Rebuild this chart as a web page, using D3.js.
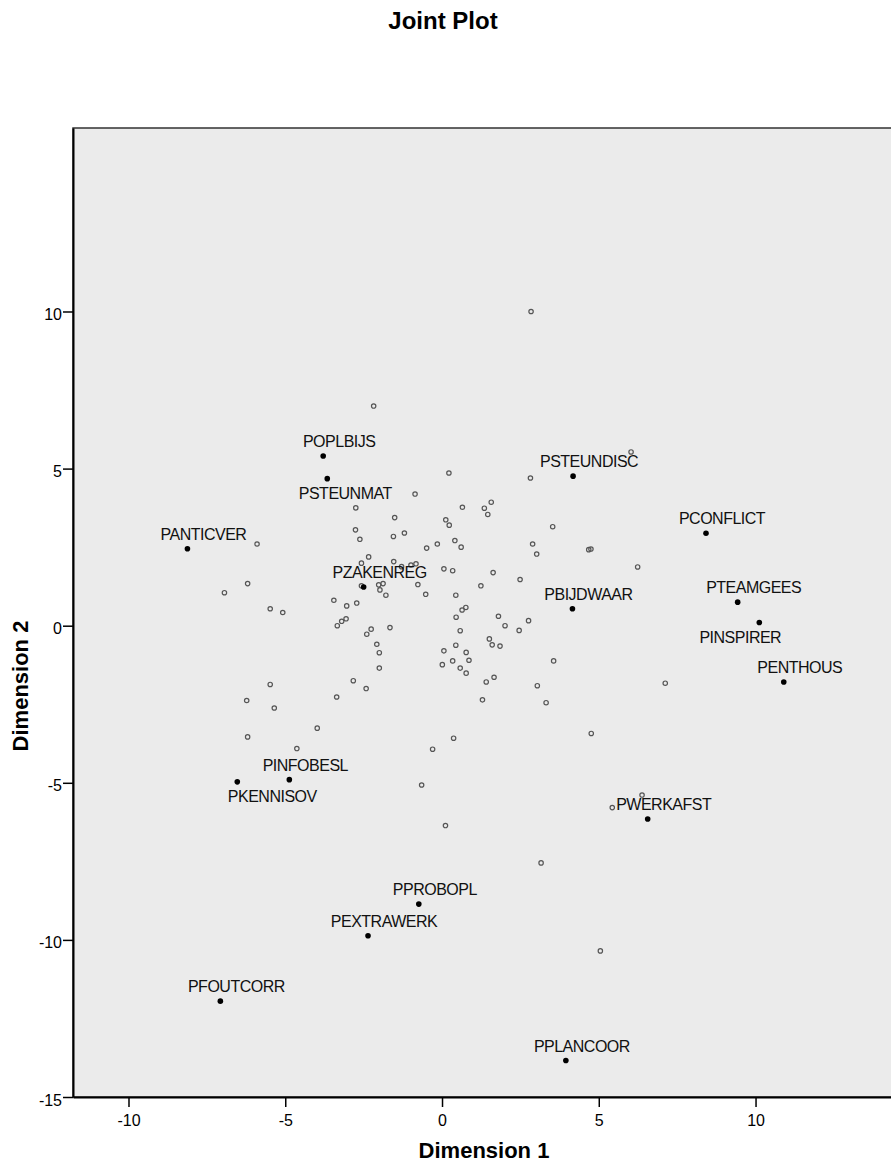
<!DOCTYPE html>
<html>
<head>
<meta charset="utf-8">
<title>Joint Plot</title>
<script src="https://cdn.jsdelivr.net/npm/d3@7"></script>
<style>
  html, body { margin: 0; padding: 0; background: #fff; }
  svg { display: block; font-family: "Liberation Sans", Arial, sans-serif; }
</style>
</head>
<body>
<div id="joint"></div>
<script>
// object scores (open circles), dimension 1 / dimension 2
const objectX = [
  -2.18, 0.22, -0.86, -2.75, -1.51, 0.12, 0.23, -2.76, -2.62, -1.55,
  -1.20, 0.41, -0.15, -0.49, -2.34, -2.57, -1.54, -1.29, -0.99, -0.83,
  0.06, 0.34, -5.90, -6.20, -6.94, -5.48, -5.08, -2.57, -2.02, -1.88,
  -1.98, -1.79, -0.77, -0.52, 0.44, -3.45, -3.04, -2.72, -3.06, -3.20,
  -3.34, -2.26, -2.40, -1.66, -2.08, -2.00, -2.00, 0.45, 0.44, 0.06,
  0.34, 0.01, 6.03, 2.82, 0.65, 1.35, 1.57, 1.46, 3.53, 0.61,
  2.89, 3.02, 4.68, 4.75, 6.24, 1.63, 2.49, 1.24, 0.64, 0.76,
  1.80, 2.01, 2.76, 2.46, 0.58, 1.51, 1.60, 1.85, 0.77, 0.86,
  0.58, 0.77, 3.56, 1.66, 1.41, 3.04, 1.29, 3.32, 7.12, 4.76,
  0.37, -5.48, -6.23, -5.35, -2.83, -2.42, -3.36, -3.98, -6.20, -4.63,
  -0.30, -0.65, 0.11, 3.16, 5.05, 5.43, 6.38, 2.84
];
const objectY = [
  6.99, 4.86, 4.19, 3.75, 3.44, 3.37, 3.20, 3.05, 2.75, 2.84,
  2.95, 2.71, 2.60, 2.47, 2.19, 1.99, 2.04, 1.88, 1.93, 1.97,
  1.81, 1.75, 2.60, 1.34, 1.05, 0.54, 0.42, 1.27, 1.30, 1.34,
  1.14, 0.97, 1.31, 1.00, 0.97, 0.81, 0.63, 0.72, 0.22, 0.14,
  0.00, -0.11, -0.27, -0.06, -0.59, -0.86, -1.35, 0.27, -0.62, -0.80,
  -1.12, -1.24, 5.53, 4.70, 3.77, 3.74, 3.93, 3.54, 3.15, 2.50,
  2.60, 2.28, 2.42, 2.44, 1.87, 1.69, 1.47, 1.27, 0.50, 0.58,
  0.30, 0.00, 0.16, -0.15, -0.16, -0.42, -0.61, -0.65, -0.85, -1.10,
  -1.35, -1.51, -1.12, -1.64, -1.79, -1.91, -2.36, -2.45, -1.83, -3.43,
  -3.58, -1.87, -2.38, -2.62, -1.75, -2.00, -2.27, -3.26, -3.54, -3.91,
  -3.93, -5.07, -6.36, -7.55, -10.35, -5.79, -5.39, 10.00
];

// category points (filled, labelled)
const categoryNames = [
  "POPLBIJS", "PSTEUNMAT", "PANTICVER", "PZAKENREG", "PSTEUNDISC", "PBIJDWAAR",
  "PCONFLICT", "PTEAMGEES", "PINSPIRER", "PENTHOUS", "PINFOBESL", "PKENNISOV",
  "PWERKAFST", "PPROBOPL", "PEXTRAWERK", "PFOUTCORR", "PPLANCOOR"
];
const categoryX = [
  -3.79, -3.66, -8.12, -2.50, 4.18, 4.16,
  8.42, 9.43, 10.12, 10.90, -4.87, -6.53,
  6.56, -0.74, -2.36, -7.07, 3.95
];
const categoryY = [
  5.40, 4.68, 2.45, 1.23, 4.76, 0.54,
  2.94, 0.75, 0.10, -1.79, -4.90, -4.97,
  -6.15, -8.86, -9.87, -11.95, -13.84
];

const xTicks = [-10, -5, 0, 5, 10];
const yTicks = [10, 5, 0, -5, -10, -15];

(function() {
  const WIDTH = 891;
  const HEIGHT = 1165;
  const PLOT = { left: 73, right: 896, top: 128, bottom: 1097 };
  const X_DOMAIN = [-11.77, 14.48];
  const Y_DOMAIN = [-15, 15.84];
  const PLOT_BG = "#ebebeb";
  const OPEN_STROKE = "#555";

  // label placement (SPSS puts them above and a bit right of the dot)
  const LABEL_DEFAULT = { dx: 16, dy: -9 };
  const LABEL_OFFSETS = {
    PSTEUNMAT: { dx: 18, dy: 20 },
    PINSPIRER: { dx: -19, dy: 20 },
    PKENNISOV: { dx: 35, dy: 20 }
  };

  const svg = d3
    .select("#joint")
    .append("svg")
    .attr("width", WIDTH)
    .attr("height", HEIGHT);

  const x = d3.scaleLinear().domain(X_DOMAIN).range([PLOT.left, PLOT.right]);
  const y = d3.scaleLinear().domain(Y_DOMAIN).range([PLOT.bottom, PLOT.top]);

  // plain hyphen minus like SPSS, not the unicode minus of d3.format
  const tickLabel = d => String(d);

  // title
  svg
    .append("text")
    .attr("x", 443)
    .attr("y", 29)
    .attr("text-anchor", "middle")
    .style("font-size", "24px")
    .style("font-weight", "bold")
    .attr("fill", "#000")
    .text("Joint Plot");

  // plot frame
  svg
    .append("rect")
    .attr("x", PLOT.left)
    .attr("y", PLOT.top)
    .attr("width", PLOT.right - PLOT.left)
    .attr("height", PLOT.bottom - PLOT.top)
    .attr("fill", PLOT_BG)
    .attr("stroke", "#333")
    .attr("stroke-width", 1.5);

  const objects = objectX.map((v, i) => ({ x: v, y: objectY[i] }));
  const categories = categoryNames.map((name, i) => ({
    name,
    x: categoryX[i],
    y: categoryY[i]
  }));

  svg
    .append("g")
    .selectAll("circle")
    .data(objects)
    .enter()
    .append("circle")
    .attr("cx", d => x(d.x))
    .attr("cy", d => y(d.y))
    .attr("r", 2.2)
    .attr("fill", "none")
    .attr("stroke", OPEN_STROKE)
    .attr("stroke-width", 1.2);

  const cat = svg.append("g");
  cat
    .selectAll("circle")
    .data(categories)
    .enter()
    .append("circle")
    .attr("cx", d => x(d.x))
    .attr("cy", d => y(d.y))
    .attr("r", 2.8)
    .attr("fill", "#000");

  cat
    .selectAll("text")
    .data(categories)
    .enter()
    .append("text")
    .attr("x", d => x(d.x) + (LABEL_OFFSETS[d.name] || LABEL_DEFAULT).dx)
    .attr("y", d => y(d.y) + (LABEL_OFFSETS[d.name] || LABEL_DEFAULT).dy)
    .attr("text-anchor", "middle")
    .style("font-size", "16px")
    .style("letter-spacing", "-0.5px")
    .attr("fill", "#111")
    .text(d => d.name);

  // axes
  const xAxis = svg
    .append("g")
    .attr("transform", `translate(0,${PLOT.bottom})`)
    .call(
      d3
        .axisBottom(x)
        .tickValues(xTicks)
        .tickFormat(tickLabel)
        .tickSize(10)
        .tickSizeOuter(0)
        .tickPadding(8)
    );

  const yAxis = svg
    .append("g")
    .attr("transform", `translate(${PLOT.left},0)`)
    .call(
      d3
        .axisLeft(y)
        .tickValues(yTicks)
        .tickFormat(tickLabel)
        .tickSize(10)
        .tickSizeOuter(0)
        .tickPadding(1)
    );

  [xAxis, yAxis].forEach(axis => {
    axis.select(".domain").attr("stroke", "#000").attr("stroke-width", 2);
    axis.selectAll(".tick line").attr("stroke", "#000").attr("stroke-width", 1.5);
    axis
      .selectAll(".tick text")
      .attr("fill", "#000")
      .style("font-size", "16px")
      .style("font-family", "'Liberation Sans', Arial, sans-serif");
  });
  yAxis.selectAll(".tick text").attr("dy", "0.5em");

  // axis titles
  svg
    .append("text")
    .attr("x", 484)
    .attr("y", 1158)
    .attr("text-anchor", "middle")
    .style("font-size", "22px")
    .style("font-weight", "bold")
    .text("Dimension 1");

  svg
    .append("text")
    .attr("transform", "translate(28,686) rotate(-90)")
    .attr("text-anchor", "middle")
    .style("font-size", "22px")
    .style("font-weight", "bold")
    .text("Dimension 2");
})();
</script>
</body>
</html>
